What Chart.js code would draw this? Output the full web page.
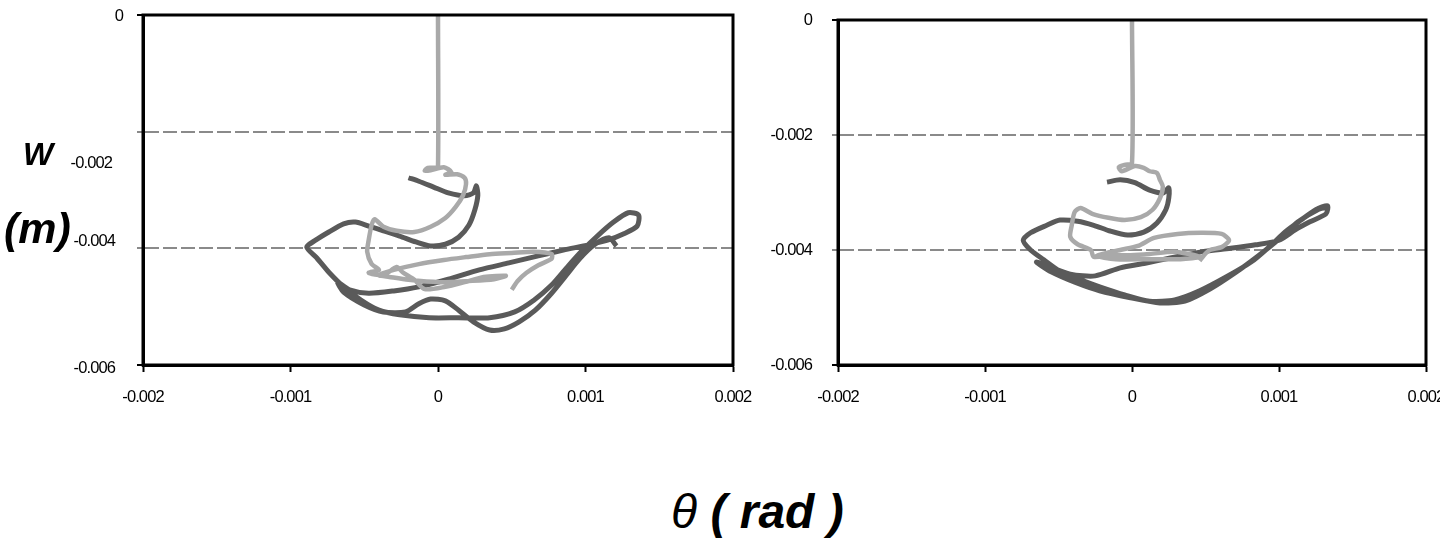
<!DOCTYPE html>
<html>
<head>
<meta charset="utf-8">
<script src="https://cdn.jsdelivr.net/npm/chart.js@4/dist/chart.umd.min.js"></script>
<style>
  html, body { margin: 0; padding: 0; background: #fff; width: 1440px; height: 546px; overflow: hidden; }
  canvas { position: absolute; top: 0; }
  #leftChart { left: 0; }
  #rightChart { left: 760px; }
  .title { position: absolute; font-family: "Liberation Sans", Arial, sans-serif; font-style: italic; font-weight: bold;
           color: #000; line-height: 1; white-space: pre; }
  #titleW { left: 23px; top: 138px; font-size: 32px; }
  #titleM { left: 4px; top: 207px; font-size: 43px; }
  #titleX { left: 671px; top: 488px; font-size: 48px; }
  #titleX .sym { font-weight: normal; }
</style>
</head>
<body>
<canvas id="leftChart" width="760" height="430"></canvas>
<canvas id="rightChart" width="700" height="430"></canvas>
<div class="title" id="titleW">W</div>
<div class="title" id="titleM">(m)</div>
<div class="title" id="titleX"><span class="sym">θ</span> ( rad )</div>
<script>
// Rotation θ in 10^-3 rad, deflection w in 10^-3 m (converted to rad / m below)
const leftLightTheta = [0, 0, -0.02, -0.07, -0.09, -0.05, 0.04, 0.09, 0.05, 0.13, 0.18, 0.19, 0.17, 0.12, 0.05, -0.05, -0.16, -0.28,
  -0.37, -0.43, -0.45, -0.47, -0.48, -0.45, -0.40, -0.47, -0.37, -0.28, -0.24, -0.16, -0.09, 0.05, 0.18, 0.31, 0.46, 0.38, 0.21,
  0.01, -0.20, -0.33, -0.40, -0.30, -0.13, 0.04, 0.19, 0.35, 0.50, 0.65, 0.77, 0.77, 0.68, 0.60, 0.54, 0.50];
const leftLightW = [0, -2.61, -2.62, -2.62, -2.67, -2.66, -2.61, -2.69, -2.74, -2.73, -2.79, -2.90, -3.09, -3.29, -3.48, -3.63, -3.72,
  -3.70, -3.63, -3.50, -3.60, -3.86, -4.06, -4.27, -4.37, -4.42, -4.46, -4.32, -4.41, -4.54, -4.70, -4.66, -4.58, -4.49, -4.47,
  -4.53, -4.56, -4.58, -4.54, -4.49, -4.46, -4.37, -4.27, -4.20, -4.15, -4.10, -4.08, -4.06, -4.10, -4.18, -4.29, -4.42, -4.56, -4.71];

const leftDarkTheta = [-0.20, -0.13, -0.03, 0.07, 0.18, 0.24, 0.26, 0.27, 0.25, 0.21, 0.14, 0.05, -0.05, -0.15, -0.26, -0.37, -0.47,
  -0.56, -0.64, -0.74, -0.83, -0.89, -0.82, -0.74, -0.64, -0.52, -0.40, -0.26, -0.06, 0.14, 0.35, 0.52, 0.65, 0.77, 0.87, 0.97,
  1.08, 1.19, 1.29, 1.36, 1.35, 1.26, 1.15, 1.02, 0.85, 0.68, 0.48, 0.28, 0.07, -0.13, -0.30, -0.47, -0.60, -0.68, -0.64, -0.50,
  -0.37, -0.22, -0.13, -0.05, 0.05, 0.14, 0.24, 0.35, 0.45, 0.55, 0.66, 0.77, 0.87, 0.96, 1.06, 1.16, 1.21];
const leftDarkW = [-2.79, -2.85, -2.95, -3.05, -3.10, -3.05, -2.93, -3.09, -3.34, -3.60, -3.81, -3.93, -3.96, -3.89, -3.79, -3.70,
  -3.62, -3.55, -3.58, -3.72, -3.86, -3.98, -4.17, -4.41, -4.66, -4.89, -5.06, -5.14, -5.19, -5.19, -5.19, -5.09, -4.89, -4.63,
  -4.34, -4.06, -3.79, -3.55, -3.39, -3.43, -3.62, -3.75, -3.86, -3.94, -4.03, -4.13, -4.25, -4.37, -4.53, -4.66, -4.73, -4.77,
  -4.71, -4.58, -4.75, -4.97, -5.09, -5.09, -4.95, -4.87, -4.90, -5.06, -5.26, -5.40, -5.38, -5.26, -5.06, -4.77, -4.46, -4.18,
  -3.94, -3.82, -3.96];

const rightLightTheta = [0, 0, -0.05, -0.09, -0.07, 0.02, 0.08, 0.12, 0.17, 0.19, 0.21, 0.19, 0.14, 0.06, -0.05, -0.16, -0.27, -0.35,
  -0.39, -0.41, -0.42, -0.37, -0.28, -0.26, -0.15, -0.01, 0.12, 0.29, 0.46, 0.33, 0.12, -0.11, -0.24, -0.08, 0.04, 0.15, 0.31,
  0.47, 0.61, 0.66, 0.61, 0.53, 0.49, 0.46];
const rightLightW = [0, -2.49, -2.52, -2.56, -2.63, -2.54, -2.57, -2.63, -2.66, -2.78, -2.90, -3.10, -3.30, -3.43, -3.48, -3.44,
  -3.37, -3.27, -3.34, -3.57, -3.77, -3.90, -4.00, -4.12, -4.09, -4.09, -4.07, -4.03, -4.12, -4.16, -4.16, -4.16, -4.10, -4.00,
  -3.93, -3.79, -3.72, -3.70, -3.72, -3.83, -3.95, -4.00, -4.09, -4.19];

const rightDarkTheta = [-0.17, -0.08, 0.02, 0.12, 0.21, 0.25, 0.25, 0.23, 0.17, 0.08, -0.03, -0.15, -0.26, -0.37, -0.49, -0.58,
  -0.69, -0.74, -0.69, -0.60, -0.49, -0.35, -0.22, -0.05, 0.12, 0.29, 0.46, 0.64, 0.81, 0.94, 1.04, 1.15, 1.25, 1.33, 1.32, 1.21,
  1.11, 1.00, 0.84, 0.67, 0.50, 0.40, 0.26, 0.09, -0.08, -0.25, -0.42, -0.59, -0.65, -0.55, -0.38, -0.22, -0.01, 0.19, 0.36,
  0.53, 0.70, 0.86, 1.00, 1.13, 1.27, 1.34];
const rightDarkW = [-2.82, -2.78, -2.83, -2.96, -3.01, -2.92, -3.10, -3.30, -3.53, -3.69, -3.74, -3.67, -3.57, -3.50, -3.48, -3.57,
  -3.70, -3.83, -4.00, -4.17, -4.37, -4.52, -4.64, -4.78, -4.89, -4.87, -4.71, -4.47, -4.21, -3.93, -3.69, -3.48, -3.30, -3.23,
  -3.37, -3.51, -3.65, -3.83, -3.91, -3.97, -4.02, -4.07, -4.14, -4.23, -4.31, -4.45, -4.42, -4.26, -4.21, -4.38, -4.57, -4.71,
  -4.83, -4.92, -4.89, -4.68, -4.40, -4.10, -3.81, -3.51, -3.29, -3.25];

// Axis ticks
const thetaTicks = [-0.002, -0.001, 0, 0.001, 0.002];
const wTicks = [-0.006, -0.004, -0.002, 0];

const DARK = '#5a5a5a';
const LIGHT = '#a9a9a9';
const FONT = '"Liberation Sans", Arial, sans-serif';
const TICK_SIZE = 16.5;

Chart.defaults.font.family = FONT;
Chart.defaults.font.size = TICK_SIZE;
Chart.defaults.color = '#000';

const fmt = v => { const n = +Number(v).toFixed(3); return n === 0 ? '0' : String(n); };
const toPoints = (th, w) => th.map((t, i) => ({ x: t / 1000, y: w[i] / 1000 }));

// Tight letter spacing for the numeric tick labels
const tightText = {
  id: 'tightText',
  beforeDraw(chart) { chart.ctx.letterSpacing = '-0.9px'; }
};

// Closed black frame around the plotting area
const framePlugin = {
  id: 'frame',
  afterDatasetsDraw(chart) {
    const { ctx, chartArea: a } = chart;
    ctx.save();
    ctx.strokeStyle = '#000';
    ctx.lineWidth = 3;
    ctx.strokeRect(a.left, a.top, a.right - a.left, a.bottom - a.top);
    ctx.restore();
  }
};

// Y labels of the first panel are set by hand (right edge, vertical shift)
const leftLabelPlacement = { '0': [123, 1], '-0.002': [112, 32], '-0.004': [115, -7], '-0.006': [115, 3] };
const leftYLabels = {
  id: 'leftYLabels',
  afterDraw(chart) {
    const s = chart.scales.y, ctx = chart.ctx;
    ctx.save();
    ctx.font = TICK_SIZE + 'px ' + FONT;
    ctx.fillStyle = '#000';
    ctx.textAlign = 'right';
    ctx.textBaseline = 'middle';
    s.ticks.forEach(t => {
      const lab = fmt(t.value);
      const p = leftLabelPlacement[lab] || [115, 0];
      ctx.fillText(lab, p[0], s.getPixelForValue(t.value) + p[1]);
    });
    ctx.restore();
  }
};

function makeChart(id, light, dark, geom, plugins, showYLabels) {
  const edgeValue = v => Math.abs(v) < 1e-9 || Math.abs(v + 0.006) < 1e-9;
  return new Chart(document.getElementById(id), {
    type: 'scatter',
    data: {
      datasets: [
        { data: light, borderColor: LIGHT, borderWidth: 4.5, showLine: true, pointRadius: 0, tension: 0.25, fill: false },
        { data: dark, borderColor: DARK, borderWidth: 5, showLine: true, pointRadius: 0, tension: 0.25, fill: false }
      ]
    },
    options: {
      responsive: false,
      animation: false,
      events: [],
      layout: { padding: { top: geom.top, right: geom.right, left: 0, bottom: 0 } },
      plugins: { legend: { display: false }, tooltip: { enabled: false } },
      scales: {
        x: {
          type: 'linear', min: thetaTicks[0], max: thetaTicks[thetaTicks.length - 1],
          afterBuildTicks: s => { s.ticks = thetaTicks.map(v => ({ value: v })); },
          afterFit: s => { s.height = geom.xHeight; s.paddingLeft = 0; s.paddingRight = 0; },
          grid: { drawOnChartArea: false, drawTicks: true, tickLength: 7, tickColor: '#000', tickWidth: 2 },
          border: { display: true, color: '#000', width: 3 },
          ticks: { padding: 16, maxRotation: 0, autoSkip: false, callback: v => fmt(v) }
        },
        y: {
          type: 'linear', min: wTicks[0], max: wTicks[wTicks.length - 1],
          afterBuildTicks: s => { s.ticks = wTicks.map(v => ({ value: v })); },
          afterFit: s => { s.width = geom.yWidth; s.paddingTop = 0; s.paddingBottom = 0; },
          grid: {
            color: '#8a8a8a', lineWidth: 2, drawTicks: true, tickLength: 6, tickWidth: 2,
            tickColor: c => (c.tick && edgeValue(c.tick.value)) ? '#000' : '#8a8a8a'
          },
          border: { display: true, color: '#000', width: 3, dash: [14, 4] },
          ticks: { display: showYLabels, padding: 20, callback: v => fmt(v) }
        }
      }
    },
    plugins: plugins
  });
}

makeChart('leftChart',
  toPoints(leftLightTheta, leftLightW), toPoints(leftDarkTheta, leftDarkW),
  { top: 15, right: 27, yWidth: 143, xHeight: 65 },
  [tightText, framePlugin, leftYLabels], false);

makeChart('rightChart',
  toPoints(rightLightTheta, rightLightW), toPoints(rightDarkTheta, rightDarkW),
  { top: 20, right: 34, yWidth: 78, xHeight: 65 },
  [tightText, framePlugin], true);
</script>
</body>
</html>
